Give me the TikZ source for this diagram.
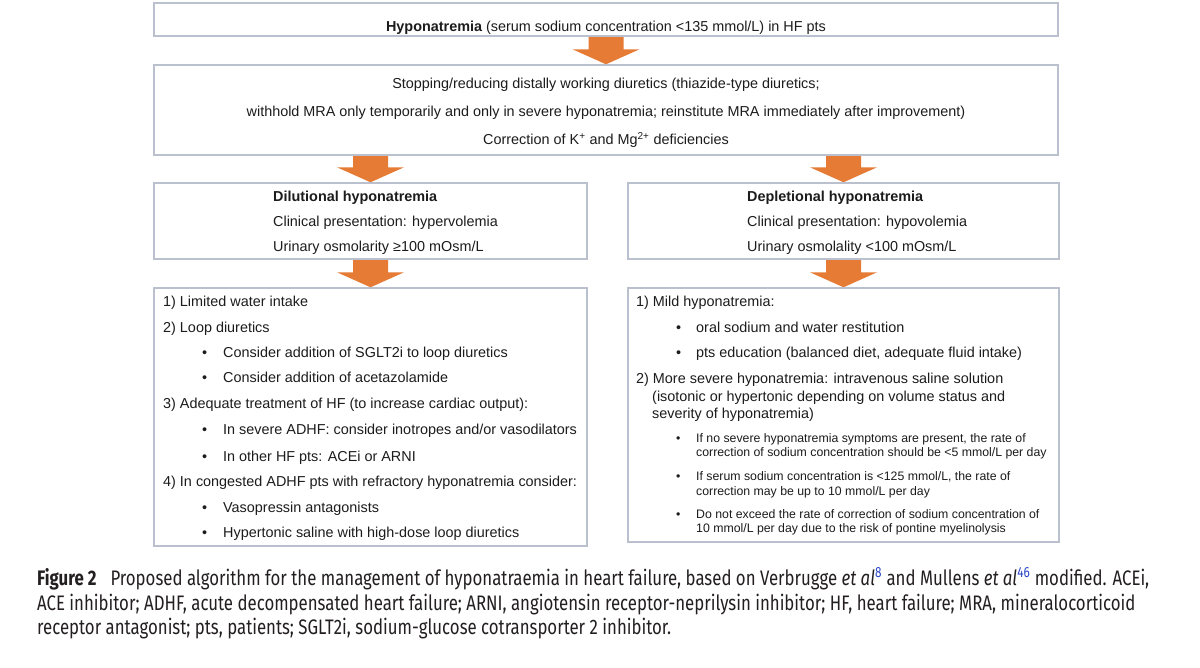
\documentclass[tikz,border=0pt]{standalone}
\usepackage{fontspec}
\setmainfont{Liberation Sans}
\newfontfamily\capfont[FakeStretch=0.8]{Fira Sans}
\usetikzlibrary{calc}
\definecolor{boxline}{RGB}{186,192,206}
\definecolor{arrowfill}{RGB}{229,123,52}
\definecolor{txt}{RGB}{28,28,28}
\definecolor{captxt}{RGB}{35,31,32}
\definecolor{linkblue}{RGB}{40,70,200}
\newcommand\blockarrow[2]{%
  \fill[arrowfill] ($(#1)+(-17.5,0)$) -- ($(#1)+(17.5,0)$) -- ($(#2)+(17.5,-15)$) -- ($(#2)+(33.5,-15)$) -- (#2) -- ($(#2)+(-33.5,-15)$) -- ($(#2)+(-17.5,-15)$) -- cycle;}
\begin{document}
\begin{tikzpicture}[x=1pt,y=-1pt,
  box/.style={draw=boxline, line width=1.4pt, rectangle, inner sep=0pt},
  tl/.style={anchor=base west, inner sep=0pt, font=\fontsize{14.4}{17}\selectfont, text=txt},
  tc/.style={anchor=base, inner sep=0pt, font=\fontsize{14.4}{17}\selectfont, text=txt},
  ts/.style={anchor=base west, inner sep=0pt, font=\fontsize{12.3}{14}\selectfont, text=txt},
  captext/.style={anchor=base west, inner sep=0pt, font=\capfont\fontsize{21}{24}\selectfont, text=captxt}]
\useasboundingbox (0,0) rectangle (1200,668);
\fill[white] (0,0) rectangle (1200,668);
% boxes (shapes only)
\node[box, minimum width=904pt, minimum height=33pt] (b1) at (606,19.5) {};
\node[box, minimum width=904pt, minimum height=90pt] (b2) at (606,110) {};
\node[box, minimum width=433pt, minimum height=76pt] (b3l) at (370.5,221) {};
\node[box, minimum width=431pt, minimum height=76pt] (b3r) at (843.5,221) {};
\node[box, minimum width=433pt, minimum height=258pt] (b4l) at (370.5,417) {};
\node[box, minimum width=431pt, minimum height=254pt] (b4r) at (843.5,415) {};
% arrow anchor points
\coordinate (a2s) at (b3l.north |- b2.south);
\coordinate (a3s) at (b3r.north |- b2.south);
\blockarrow{b1.south}{b2.north}
\blockarrow{a2s}{b3l.north}
\blockarrow{a3s}{b3r.north}
\blockarrow{b3l.south}{b4l.north}
\blockarrow{b3r.south}{b4r.north}
% redraw box outlines on top
\foreach \b in {b1,b2,b3l,b3r,b4l,b4r} \draw[boxline, line width=1.4pt] (\b.north west) rectangle (\b.south east);
% top box
\node[tc] (t1) at (606,32) {\textbf{Hyponatremia} (serum sodium concentration <135 mmol/L) in HF pts};
% second box
\node[tc] (t2a) at (606,89) {Stopping/reducing distally working diuretics (thiazide-type diuretics;};
\node[tc] (t2b) at (606,117) {withhold MRA only temporarily and only in severe hyponatremia; reinstitute MRA immediately after improvement)};
\node[tc] (t2c) at (606,145) {Correction of K\textsuperscript{+} and Mg\textsuperscript{2+} deficiencies};
% dilutional
\node[tl] (d1) at (273,202) {\textbf{Dilutional hyponatremia}};
\node[tl] (d2) at (273,227) {Clinical presentation: hypervolemia};
\node[tl] (d3) at (273,252) {Urinary osmolarity ≥100 mOsm/L};
% depletional
\node[tl] (p1) at (747,202) {\textbf{Depletional hyponatremia}};
\node[tl] (p2) at (747,227) {Clinical presentation: hypovolemia};
\node[tl] (p3) at (747,252) {Urinary osmolality <100 mOsm/L};
% lower left
\node[tl] (l1) at (163,307) {1) Limited water intake};
\node[tl] (l2) at (163,333) {2) Loop diuretics};
\node[tl] (l3b) at (202,358) {•};
\node[tl] (l3) at (223,358) {Consider addition of SGLT2i to loop diuretics};
\node[tl] (l4b) at (202,383) {•};
\node[tl] (l4) at (223,383) {Consider addition of acetazolamide};
\node[tl] (l5) at (163,409) {3) Adequate treatment of HF (to increase cardiac output):};
\node[tl] (l6b) at (202,435) {•};
\node[tl] (l6) at (223,435) {In severe ADHF: consider inotropes and/or vasodilators};
\node[tl] (l7b) at (202,461) {•};
\node[tl] (l7) at (223,461) {In other HF pts: ACEi or ARNI};
\node[tl] (l8) at (163,486) {4) In congested ADHF pts with refractory hyponatremia consider:};
\node[tl] (l9b) at (202,512) {•};
\node[tl] (l9) at (223,512) {Vasopressin antagonists};
\node[tl] (l10b) at (202,537) {•};
\node[tl] (l10) at (223,537) {Hypertonic saline with high-dose loop diuretics};
% lower right
\node[tl] (r1) at (636,307) {1) Mild hyponatremia:};
\node[tl] (r2b) at (676,333) {•};
\node[tl] (r2) at (696,333) {oral sodium and water restitution};
\node[tl] (r3b) at (676,358) {•};
\node[tl] (r3) at (696,358) {pts education (balanced diet, adequate fluid intake)};
\node[tl] (r4) at (636,384) {2) More severe hyponatremia: intravenous saline solution};
\node[tl] (r5) at (652,401) {(isotonic or hypertonic depending on volume status and};
\node[tl] (r6) at (652,418) {severity of hyponatremia)};
\node[ts] (s1b) at (676,442) {•};
\node[ts] (s1) at (696,442) {If no severe hyponatremia symptoms are present, the rate of};
\node[ts] (s2) at (696,456) {correction of sodium concentration should be <5 mmol/L per day};
\node[ts] (s3b) at (676,480) {•};
\node[ts] (s3) at (696,480) {If serum sodium concentration is <125 mmol/L, the rate of};
\node[ts] (s4) at (696,495) {correction may be up to 10 mmol/L per day};
\node[ts] (s5b) at (676,518) {•};
\node[ts] (s5) at (696,518) {Do not exceed the rate of correction of sodium concentration of};
\node[ts] (s6) at (696,532) {10 mmol/L per day due to the risk of pontine myelinolysis};
% caption
\node[captext] (c1) at (37,585) {\textbf{Figure 2}\hspace{14pt}Proposed algorithm for the management of hyponatraemia in heart failure, based on Verbrugge \textit{et al}\textsuperscript{\color{linkblue}8} and Mullens \textit{et al}\textsuperscript{\color{linkblue}46} modified. ACEi,};
\node[captext] (c2) at (37,610) {ACE inhibitor; ADHF, acute decompensated heart failure; ARNI, angiotensin receptor-neprilysin inhibitor; HF, heart failure; MRA, mineralocorticoid};
\node[captext] (c3) at (37,634) {receptor antagonist; pts, patients; SGLT2i, sodium-glucose cotransporter 2 inhibitor.};
\end{tikzpicture}
\end{document}
